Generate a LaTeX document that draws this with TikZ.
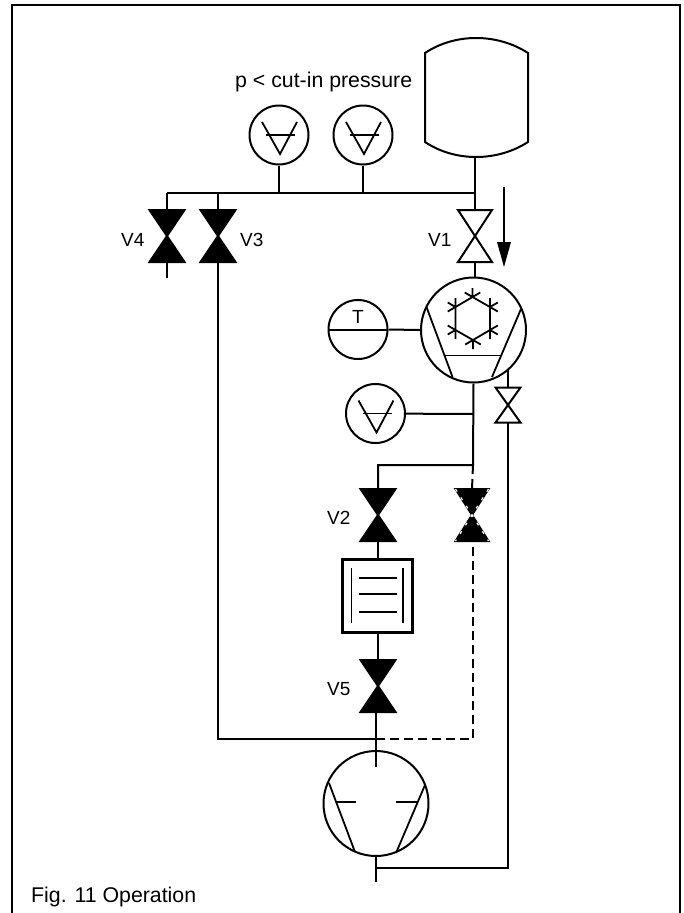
\documentclass[tikz,border=0pt]{standalone}
\usepackage{fontspec}
\setmainfont{Liberation Sans}
\usetikzlibrary{calc}
\tikzset{
  pipe/.style={line width=2pt,draw=black},
  thin pipe/.style={line width=1.8pt,draw=black},
  dash pipe/.style={line width=2pt,draw=black,dash pattern=on 9pt off 5pt},
  ring/.style={circle,draw=black,line width=2pt,minimum size=59pt,inner sep=0pt,fill=white},
  bigring/.style={circle,draw=black,line width=2pt,minimum size=105pt,inner sep=0pt},
  lbl/.style={font=\fontsize{19pt}{21pt}\selectfont,inner sep=0pt,text=black},
  biglbl/.style={font=\fontsize{21.3pt}{23pt}\selectfont,inner sep=0pt,text=black},
}
\newcommand{\gaugesym}[1]{%
  \draw[thin pipe] ($(#1)+(-17,-13)$) -- ($(#1)+(1,19)$) -- ($(#1)+(18,-13)$);
  \draw[thin pipe] ($(#1)+(-13,0)$) -- ($(#1)+(16,0)$);
}
\newcommand{\valvesym}[4]{% center, half-width, fill, name prefix
  \path ($(#1)+(-#2,-26)$) coordinate (#4a) ($(#1)+(#2,-26)$) coordinate (#4b)
        ($(#1)+(-#2,26)$) coordinate (#4c) ($(#1)+(#2,26)$) coordinate (#4d);
  \draw[line width=2pt,fill=#3,line join=miter] (#4a) -- (#4b) -- (#4c) -- (#4d) -- cycle;
}
\begin{document}
\begin{tikzpicture}[x=1pt,y=-1pt]
\useasboundingbox (0,0) rectangle (683,913);
% frame
\coordinate (f1) at (12,913); \coordinate (f2) at (12,5); \coordinate (f3) at (680,5); \coordinate (f4) at (680,913);
\draw[line width=1.7pt] (f1) -- (f2) -- (f3) -- (f4);
% tank
\draw[line width=2pt] (425,53) .. controls (455,33) and (497,33) .. (528,53) -- (528,142)
   .. controls (497,162) and (455,162) .. (425,142) -- cycle;
% gauges
\coordinate (g1c) at (279,135); \coordinate (g2c) at (363,135);
\node[ring] (g1) at (g1c) {}; \node[ring] (g2) at (g2c) {};
\gaugesym{g1c} \gaugesym{g2c}
\coordinate (hj) at (475,193); \coordinate (h4) at (167,193); \coordinate (h3) at (218,193);
\coordinate (g1j) at (279,193); \coordinate (g2j) at (363,193);
\draw[pipe] (h4) -- (hj);
\draw[pipe] (g1) -- (g1j); \draw[pipe] (g2) -- (g2j);
% valves
\coordinate (v1c) at (475,236); \coordinate (v3c) at (218,236); \coordinate (v4c) at (167,236);
\coordinate (v2c) at (378,515); \coordinate (v5c) at (378,686); \coordinate (vdc) at (472,515);
\coordinate (vrc) at (508,405);
\valvesym{v1c}{17}{white}{vA}
\valvesym{v3c}{17.5}{black}{vB}
\valvesym{v4c}{17.5}{black}{vC}
\valvesym{v2c}{17.5}{black}{vD}
\valvesym{v5c}{17.5}{black}{vE}
\path (vrc)+(-12.5,-17.5) coordinate (vFa) +(12.5,-17.5) coordinate (vFb) +(-12.5,17.5) coordinate (vFc) +(12.5,17.5) coordinate (vFd);
\draw[line width=2pt] (vFa) -- (vFb) -- (vFc) -- (vFd) -- cycle;
% dashed valve
\valvesym{vdc}{16.5}{black}{vG}
\draw[line width=1.2pt,white,dash pattern=on 3pt off 7pt] (vGa) -- (vGd) (vGb) -- (vGc);
% condenser
\node[bigring] (cond) at (473.5,330) {};
\coordinate (k1) at (426.5,307); \coordinate (k2) at (452.5,377);
\coordinate (k3) at (521,309); \coordinate (k4) at (492,377);
\draw[thin pipe] (k1) -- (k2) (k3) -- (k4);
\coordinate (k5) at (445,355.5); \coordinate (k6) at (501,355.5);
\draw[thin pipe] (k5) -- (k6);
% snowflake
\coordinate (s1) at (472.5,297); \coordinate (s2) at (490,307); \coordinate (s3) at (490,330);
\coordinate (s4) at (473,340); \coordinate (s5) at (455.5,330); \coordinate (s6) at (455.5,307);
\draw[thin pipe] (s1) -- (s2) -- (s3) -- (s4) -- (s5) -- (s6) -- cycle;
\begin{scope}[y=1pt]
\foreach \p/\a/\b/\c in {s1/90/150/30, s2/30/90/-30, s3/-30/30/-90, s4/-90/-30/-150, s5/-150/-90/150, s6/150/210/90}{
  \draw[thin pipe] (\p) -- +(\a:9) (\p) -- +(\b:9) (\p) -- +(\c:9);
}
\end{scope}
% T gauge
\node[ring] (t) at (358,329.5) {};
\coordinate (tl) at (328.5,330); \coordinate (tr) at (387.5,330);
\draw[thin pipe] (tl) -- (tr);
\node[lbl] (ttext) at (358,317) {T};
\draw[pipe] (t.east) -- (cond.west);
% lower gauge
\coordinate (g3c) at (375.5,413.5);
\node[ring] (g3) at (g3c) {};
\gaugesym{g3c}
\coordinate (g3j) at (473,414);
\draw[pipe] (g3) -- (g3j);
% pipes
\coordinate (tb) at (475,157);
\draw[pipe] (tb) -- (vAa -| tb);
\draw[pipe] (vAc -| tb) -- (tb |- cond.north);
\draw[pipe] (h3) -- (vBa -| h3);
\draw[pipe] (h4) -- (vCa -| h4);
\coordinate (c4e) at (167,278);
\draw[pipe] (vCc -| h4) -- (c4e);
% V3 loop
\coordinate (lb) at (218,739); \coordinate (lm) at (376,739); \coordinate (lr) at (473,739);
\draw[pipe] (vBc -| h3) -- (lb) -- (lm);
\coordinate (dbot) at (473,541);
\draw[dash pipe] (lm) -- (lr) -- (dbot);
% main
\coordinate (mj) at (473,465); \coordinate (ml) at (378,465);
\draw[pipe] (cond.south) -- (mj) -- (ml) -- (vDa -| ml);
\coordinate (dtop) at (472,489);
\draw[dash pipe] (mj) -- (dtop);
% box
\node[draw,line width=2.2pt,minimum width=70pt,minimum height=73pt,inner sep=0pt] (box) at (377.5,596) {};
\coordinate (b1) at (351.5,568); \coordinate (b2) at (351.5,623); \coordinate (b3) at (403,568); \coordinate (b4) at (403,623);
\draw[thin pipe] (b1) -- (b2) (b3) -- (b4);
\draw[thin pipe] (359,578) -- (397,578) (359,594) -- (397,594) (359,612) -- (397,612);
\draw[pipe] (vDc -| ml) -- (ml |- box.north);
\draw[pipe] (ml |- box.south) -- (vEa -| ml);
% compressor
\node[bigring] (comp) at (376,803.5) {};
\coordinate (p1) at (329,783); \coordinate (p2) at (355,852);
\coordinate (p3) at (425,785); \coordinate (p4) at (396,853);
\draw[thin pipe] (p1) -- (p2) (p3) -- (p4);
\draw[thin pipe] (337,802) -- (356,802) (396,802) -- (418,802);
\coordinate (ps) at (376,767); \coordinate (pe) at (376,882); \coordinate (pj) at (376,868);
\draw[pipe] (vEc -| ps) -- (ps);
\draw[pipe] (comp.south) -- (pe);
\coordinate (rj) at (508,868);
\coordinate (rv) at (508,370);
\draw[pipe] (pj) -- (rj) -- (vFc -| rj);
\draw[pipe] (vFa -| rj) -- (rv);
% arrow
\coordinate (a1) at (504,187); \coordinate (a2) at (504,267);
\draw[line width=2.4pt] (a1) -- (504,245);
\path[fill=black] (497,242) -- (511,242) -- (a2) -- cycle;
% labels
\node[biglbl,anchor=base west] (tp) at (235,87) {p < cut-in pressure};
\node[lbl,anchor=base west] (lv4) at (121,246) {V4};
\node[lbl,anchor=base west] (lv3) at (240,246) {V3};
\node[lbl,anchor=base west] (lv1) at (428,246) {V1};
\node[lbl,anchor=base west] (lv2) at (327,524) {V2};
\node[lbl,anchor=base west] (lv5) at (327,695) {V5};
\node[biglbl,anchor=base west] (fig) at (31,902) {Fig. 11 Operation};
\end{tikzpicture}
\end{document}
